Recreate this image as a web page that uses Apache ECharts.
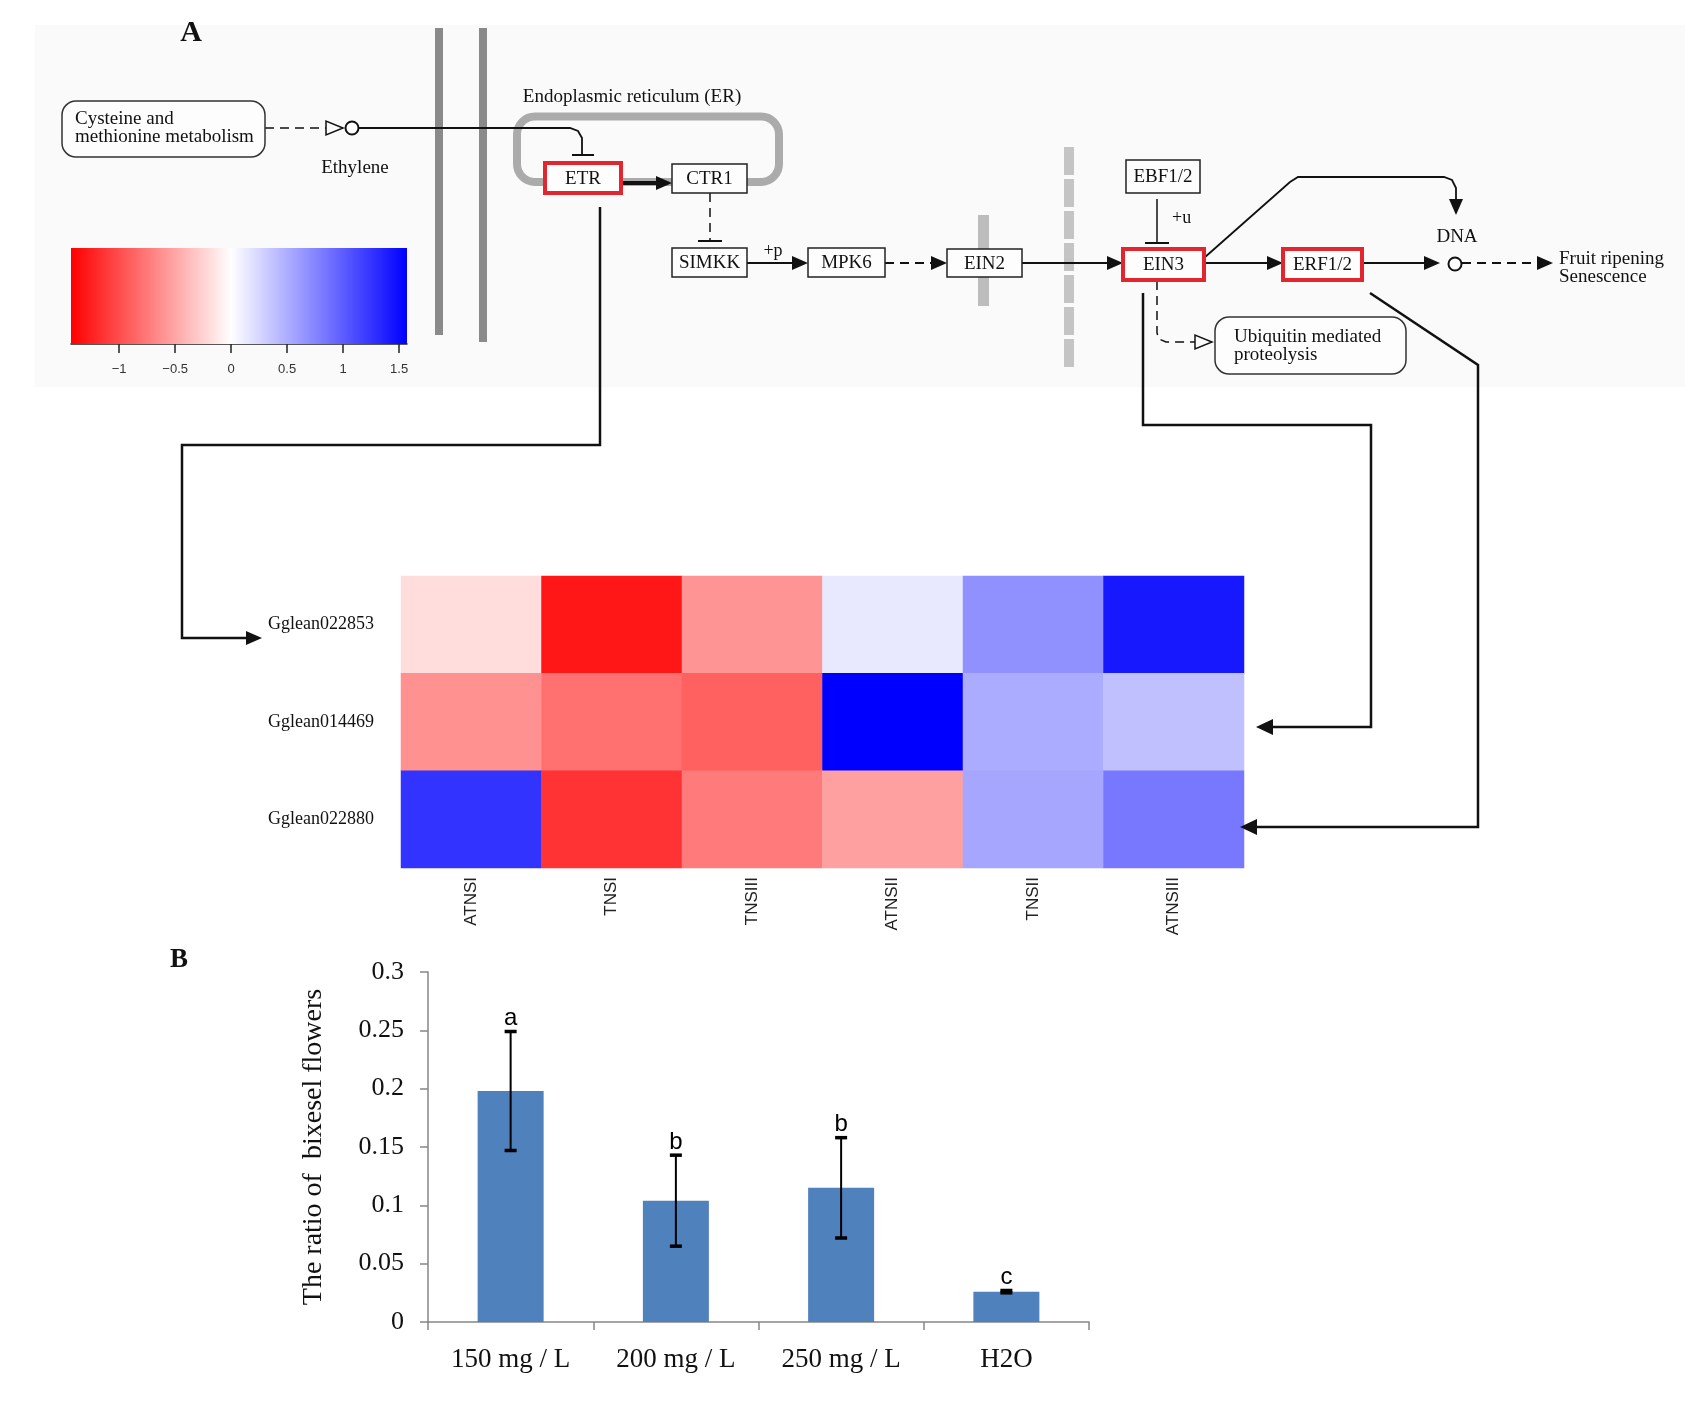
<!DOCTYPE html>
<html><head><meta charset="utf-8">
<script src="https://cdn.jsdelivr.net/npm/echarts@6/dist/echarts.min.js"></script>
<style>html,body{margin:0;padding:0;background:#fff}#c{width:1685px;height:1419px}</style>
</head><body><div id="c"></div>
<script>
// ---------------- data ----------------
const heatCols = ['ATNSI', 'TNSI', 'TNSIII', 'ATNSII', 'TNSII', 'ATNSIII'];
const heatRows = ['Gglean022853', 'Gglean014469', 'Gglean022880'];
const rowGglean022853 = [-0.19, -1.31, -0.60, 0.14, 0.68, 1.42];
const rowGglean014469 = [-0.62, -0.80, -0.89, 1.57, 0.52, 0.39];
const rowGglean022880 = [1.26, -1.14, -0.74, -0.53, 0.55, 0.83];
const colorbarMin = -1.43;
const colorbarMax = 1.57;
const colorbarTicks = [-1, -0.5, 0, 0.5, 1, 1.5];

const treatments = ['150 mg / L', '200 mg / L', '250 mg / L', 'H2O'];
const ratioMeans = [0.198, 0.104, 0.115, 0.026];
const ratioErrors = [0.051, 0.039, 0.043, 0.001];
const sigLetters = ['a', 'b', 'b', 'c'];
const ratioMin = 0, ratioMax = 0.3, ratioStep = 0.05;

// ---------------- helpers ----------------
const SERIF = '"Liberation Serif", "Times New Roman", serif';
const SANS = '"Liberation Sans", Arial, sans-serif';
function colorAt(v) {
  let r, g, b;
  if (v < 0) { const t = Math.min(1, v / colorbarMin); r = 255; g = b = Math.round(255 * (1 - t)); }
  else { const t = Math.min(1, v / colorbarMax); r = g = Math.round(255 * (1 - t)); b = 255; }
  return 'rgb(' + r + ',' + g + ',' + b + ')';
}
const mapStops = [];
for (let i = 0; i <= 60; i++) mapStops.push(colorAt(colorbarMin + (colorbarMax - colorbarMin) * i / 60));
const zeroOffset = (0 - colorbarMin) / (colorbarMax - colorbarMin);

const heatData = [rowGglean022853, rowGglean014469, rowGglean022880]
  .flatMap((row, ri) => row.map((v, ci) => [ci, ri, v]));

// diagram helpers (pathway figure, not data)
const INK = '#111';
const BG = '#fafafa';
function txt(x, y, t, size, align, extra) {
  return Object.assign({ type: 'text', x: x, y: y, z: 5,
    style: { text: t, font: (size || 19) + 'px ' + SERIF, fill: INK, textAlign: align || 'center', textVerticalAlign: 'middle' } }, extra || {});
}
function ln(x1, y1, x2, y2, w, dash, color) {
  return { type: 'line', z: 3, shape: { x1, y1, x2, y2 }, style: { stroke: color || INK, lineWidth: w || 2, lineDash: dash || null } };
}
function pl(points, w, dash) {
  return { type: 'polyline', z: 3, shape: { points }, style: { stroke: INK, lineWidth: w || 2, lineDash: dash || null, fill: null } };
}
function tri(points, open) {
  return { type: 'polygon', z: 4, shape: { points }, style: open ? { fill: BG, stroke: INK, lineWidth: 1.5 } : { fill: INK } };
}
function arrowR(tip, y) { return tri([[tip - 16, y - 7], [tip - 16, y + 7], [tip, y]]); }
function arrowL(tip, y) { return tri([[tip + 17, y - 8], [tip + 17, y + 8], [tip, y]]); }
function box(x1, y1, x2, y2, label, red) {
  return [
    { type: 'rect', z: 4, shape: { x: x1, y: y1, width: x2 - x1, height: y2 - y1 },
      style: { fill: '#fdfdfd', stroke: red ? '#e2252f' : '#222', lineWidth: red ? 4 : 1.5 } },
    txt((x1 + x2) / 2, (y1 + y2) / 2 + 1, label, 19)
  ];
}

const graphics = [].concat(
  [{ type: 'rect', z: 0, shape: { x: 35, y: 25, width: 1650, height: 362 }, style: { fill: BG } }],
  [txt(191, 33, 'A', 30, 'center', {}), txt(179, 960, 'B', 27, 'center', {})].map(e => { e.style.font = 'bold ' + e.style.font; return e; }),
  // Cysteine box
  [{ type: 'rect', z: 4, shape: { x: 62, y: 101, width: 203, height: 56, r: 14 }, style: { fill: '#fdfdfd', stroke: '#333', lineWidth: 1.5 } },
   txt(75, 119, 'Cysteine and', 19, 'left'), txt(75, 137, 'methionine metabolism', 19, 'left'),
   ln(265, 128, 326, 128, 1.5, [9, 6]), tri([[326, 121], [326, 135], [343, 128]], true),
   { type: 'circle', z: 4, shape: { cx: 352, cy: 128, r: 6.5 }, style: { fill: '#fff', stroke: INK, lineWidth: 2 } },
   pl([[359, 128], [570, 128], [578, 131], [582, 138], [582, 155]], 1.8),
   ln(572, 155, 594, 155, 2),
   txt(355, 168, 'Ethylene', 19)],
  // membranes
  [{ type: 'rect', z: 1, shape: { x: 435, y: 28, width: 8, height: 307 }, style: { fill: '#8a8a8a' } },
   { type: 'rect', z: 1, shape: { x: 479, y: 28, width: 8, height: 314 }, style: { fill: '#8a8a8a' } }],
  // ER
  [txt(632, 97, 'Endoplasmic reticulum (ER)', 19),
   { type: 'rect', z: 2, shape: { x: 517, y: 116.5, width: 262, height: 65.5, r: 18 }, style: { fill: null, stroke: '#ababab', lineWidth: 8 } }],
  box(545, 163, 621, 193, 'ETR', true),
  [ln(621, 183, 657, 183, 4), arrowR(672, 183)],
  box(672, 164, 747, 193, 'CTR1'),
  [ln(710, 193, 710, 240, 1.5, [9, 6]), ln(698, 241, 722, 241, 2)],
  box(672, 248, 747, 277, 'SIMKK'),
  [txt(773, 251, '+p', 18), ln(747, 263, 793, 263, 2), arrowR(808, 263)],
  box(808, 248, 885, 277, 'MPK6'),
  [ln(885, 263, 932, 263, 2, [9, 6]), arrowR(947, 263)],
  [{ type: 'rect', z: 2, shape: { x: 978, y: 215, width: 11, height: 91 }, style: { fill: '#bdbdbd' } }],
  box(947, 249, 1022, 277, 'EIN2'),
  [ln(1069, 147, 1069, 369, 10, [28, 4], '#c4c4c4')],
  [ln(1022, 263, 1107, 263, 2), arrowR(1123, 263)],
  box(1123, 249, 1204, 280, 'EIN3', true),
  box(1126, 160, 1200, 193, 'EBF1/2'),
  [ln(1157, 199, 1157, 243, 1.5), ln(1145, 243, 1169, 243, 2), txt(1172, 218, '+u', 18, 'left')],
  [ln(1204, 263, 1267, 263, 2), arrowR(1283, 263)],
  box(1283, 249, 1362, 280, 'ERF1/2', true),
  [ln(1362, 263, 1425, 263, 2), arrowR(1440, 263),
   { type: 'circle', z: 4, shape: { cx: 1455, cy: 264, r: 6.5 }, style: { fill: '#fff', stroke: INK, lineWidth: 2 } },
   txt(1457, 237, 'DNA', 19),
   ln(1462, 263, 1538, 263, 2, [9, 6]), arrowR(1553, 263),
   txt(1559, 259, 'Fruit ripening', 19, 'left'), txt(1559, 277, 'Senescence', 19, 'left')],
  [pl([[1204, 258], [1290, 182], [1298, 177], [1444, 177], [1452, 180], [1456, 188], [1456, 200]], 1.8),
   tri([[1449, 199], [1463, 199], [1456, 215]])],
  [pl([[1157, 281], [1157, 333], [1159, 339], [1166, 342], [1195, 342]], 1.5, [9, 6]),
   tri([[1195, 335], [1195, 349], [1212, 342]], true),
   { type: 'rect', z: 4, shape: { x: 1215, y: 317, width: 191, height: 57, r: 14 }, style: { fill: '#fdfdfd', stroke: '#333', lineWidth: 1.5 } },
   txt(1234, 337, 'Ubiquitin mediated', 19, 'left'), txt(1234, 355, 'proteolysis', 19, 'left')],
  // connectors to heatmap rows
  [pl([[600, 207], [600, 445], [182, 445], [182, 638], [246, 638]], 2.5), arrowR(262, 638),
   pl([[1143, 293], [1143, 425], [1371, 425], [1371, 727], [1272, 727]], 2.5), arrowL(1256, 727),
   pl([[1370, 293], [1478, 365], [1478, 827], [1256, 827]], 2.5), arrowL(1240, 827)]
);

// ---------------- chart ----------------
const chart = echarts.init(document.getElementById('c'), null, { renderer: 'canvas' });
const option = {
  backgroundColor: '#fff',
  animation: false,
  graphic: { elements: graphics },
  grid: [
    { left: 401, top: 576, width: 843, height: 292 },
    { left: 428, top: 972, width: 661, height: 350 },
    { left: 71, top: 248, width: 336, height: 96 }
  ],
  xAxis: [
    { gridIndex: 0, type: 'category', data: heatCols, position: 'bottom',
      axisLine: { show: false }, axisTick: { show: false },
      axisLabel: { rotate: 90, margin: 9, fontSize: 17, fontFamily: SANS, color: '#222' } },
    { gridIndex: 1, type: 'category', data: treatments,
      axisLine: { lineStyle: { color: '#868686', width: 1.5 } },
      axisTick: { show: true, length: 8, lineStyle: { color: '#868686', width: 1.5 } },
      axisLabel: { margin: 24, fontSize: 27, fontFamily: SERIF, color: '#111' } },
    { gridIndex: 2, type: 'value', min: colorbarMin, max: colorbarMax, position: 'bottom',
      splitLine: { show: false },
      axisLine: { lineStyle: { color: '#222', width: 1.5 } },
      axisTick: { length: 9, customValues: colorbarTicks, lineStyle: { color: '#222', width: 1.5 } },
      axisLabel: { customValues: colorbarTicks, margin: 19, fontSize: 13, fontFamily: SANS, color: '#333',
        formatter: v => String(v).replace('-', '\u2212') } }
  ],
  yAxis: [
    { gridIndex: 0, type: 'category', data: heatRows, inverse: true,
      axisLine: { show: false }, axisTick: { show: false },
      axisLabel: { margin: 27, fontSize: 18, fontFamily: SERIF, color: '#111' } },
    { gridIndex: 1, type: 'value', min: ratioMin, max: ratioMax, interval: ratioStep,
      splitLine: { show: false },
      axisLine: { show: true, lineStyle: { color: '#868686', width: 1.5 } },
      axisTick: { show: true, length: 8, lineStyle: { color: '#868686', width: 1.5 } },
      axisLabel: { margin: 24, fontSize: 26, fontFamily: SERIF, color: '#111' },
      name: 'The ratio of  bixesel flowers', nameLocation: 'middle', nameGap: 100, nameRotate: 90,
      nameTextStyle: { fontSize: 28, fontFamily: SERIF, color: '#111' } },
    { gridIndex: 2, type: 'value', min: 0, max: 1, show: false }
  ],
  visualMap: {
    type: 'continuous', show: false, seriesIndex: 0, dimension: 2,
    min: colorbarMin, max: colorbarMax, inRange: { color: mapStops }
  },
  series: [
    { type: 'heatmap', xAxisIndex: 0, yAxisIndex: 0, data: heatData,
      itemStyle: { borderWidth: 0 }, emphasis: { disabled: true } },
    { type: 'bar', xAxisIndex: 1, yAxisIndex: 1, data: ratioMeans, barWidth: 66,
      itemStyle: { color: '#4F81BD' } },
    { type: 'custom', xAxisIndex: 1, yAxisIndex: 1, z: 5,
      data: ratioMeans.map((m, i) => [i, m, ratioErrors[i]]),
      renderItem: function (params, api) {
        const i = api.value(0), m = api.value(1), e = api.value(2);
        const top = api.coord([i, m + e]);
        const bot = api.coord([i, m - e]);
        const cw = 6;
        return { type: 'group', children: [
          { type: 'line', shape: { x1: top[0], y1: top[1], x2: bot[0], y2: bot[1] }, style: { stroke: '#000', lineWidth: 2 } },
          { type: 'line', shape: { x1: top[0] - cw, y1: top[1], x2: top[0] + cw, y2: top[1] }, style: { stroke: '#000', lineWidth: 3.5 } },
          { type: 'line', shape: { x1: bot[0] - cw, y1: bot[1], x2: bot[0] + cw, y2: bot[1] }, style: { stroke: '#000', lineWidth: 3.5 } },
          { type: 'text', x: top[0], y: top[1] - 1,
            style: { text: sigLetters[params.dataIndex], font: '24px ' + SANS, fill: '#000', textAlign: 'center', textVerticalAlign: 'bottom' } }
        ] };
      } },
    { type: 'custom', xAxisIndex: 2, yAxisIndex: 2, z: 1,
      data: [[colorbarMin, colorbarMax]],
      renderItem: function (params, api) {
        const p0 = api.coord([api.value(0), 1]);
        const p1 = api.coord([api.value(1), 0]);
        return { type: 'rect', shape: { x: p0[0], y: p0[1], width: p1[0] - p0[0], height: p1[1] - p0[1] },
          style: { fill: new echarts.graphic.LinearGradient(0, 0, 1, 0, [
            { offset: 0, color: colorAt(colorbarMin) },
            { offset: zeroOffset, color: '#ffffff' },
            { offset: 1, color: colorAt(colorbarMax) }]) } };
      } }
  ]
};
chart.setOption(option);
</script>
</body></html>
